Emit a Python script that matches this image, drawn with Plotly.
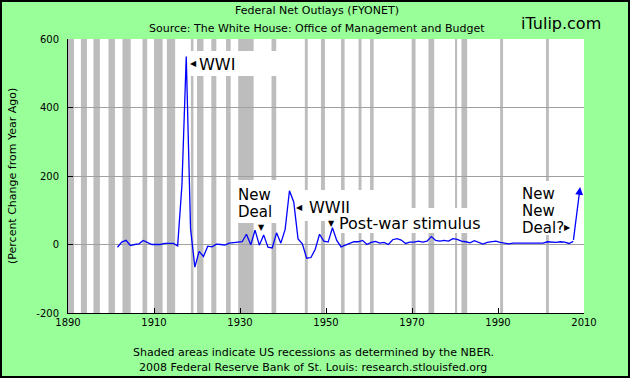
import plotly.graph_objects as go

# ---------------- data ----------------
fiscal_years = list(range(1902, 2009))
pct_change = [
    -8, 7, 12, -3, 0, 2, 12, 5, 0, 0,          # 1902-1911
    0, 3, 2, 3, -4, 174, 549, 46, -66, -20,    # 1912-1921
    -35, -5, -7, 1, 0, -2, 4, 6, 6, 8,         # 1922-1931
    30, -1, 42, -2, 28, -8, -10, 34, 4, 44,    # 1932-1941
    157, 124, 16, 2, -40, -38, -14, 30, 10, 7, # 1942-1951
    49, 12, -7, -3, 3, 8, 8, 12, 0, 6,         # 1952-1961
    9, 4, 6, 0, 14, 17, 13, 3, 7, 7,           # 1962-1971
    10, 7, 10, 23, 12, 10, 12, 10, 17, 15,     # 1972-1981
    10, 8, 5, 11, 5, 1, 6, 7, 10, 6,           # 1982-1991
    4, 2, 4, 4, 3, 3, 3, 3, 5, 4,              # 1992-2001
    8, 7, 6, 8, 7, 3, 9,                       # 2002-2008
]
# hand-drawn "New New Deal?" projection arrow (from last obs to this point)
projection_year = 2009.1
projection_value = 168

# NBER recessions (decimal years, as shaded)
recession_start = [1890.0, 1893.0, 1895.92, 1899.42, 1902.67, 1907.33, 1910.0, 1913.0,
                   1918.58, 1920.0, 1923.33, 1926.75, 1929.58, 1937.33, 1945.08, 1948.83,
                   1953.5, 1957.58, 1960.25, 1969.92, 1973.83, 1980.0, 1981.5, 1990.5, 2001.17]
recession_end = [1891.4, 1894.42, 1897.42, 1900.92, 1904.58, 1908.42, 1912.0, 1914.92,
                 1919.17, 1921.5, 1924.5, 1927.83, 1933.17, 1938.42, 1945.75, 1949.75,
                 1954.33, 1958.25, 1961.08, 1970.83, 1975.17, 1980.5, 1982.83, 1991.17, 2001.83]

x_ticks = [1890, 1910, 1930, 1950, 1970, 1990, 2010]
y_ticks = [-200, 0, 200, 400, 600]
y_tick_text = ["-200", "0", "200", "400", "600"]

# plotted at the start of each fiscal year (mid previous calendar year)
obs_x = [fy - 0.5 for fy in fiscal_years]

# ---------------- layout geometry (pixels) ----------------
W, H = 630, 378
L, R, T, B = 68, 584, 39, 313
X0, X1, Y0, Y1 = 1890, 2010, -200, 600
FONT = "DejaVu Sans"
BG = "#99FF99"


def pp(x, y):
    return (x - L) / (R - L), (B - y) / (B - T)


def pd_(x, y):
    return X0 + (x - L) / (R - L) * (X1 - X0), Y0 + (B - y) / (B - T) * (Y1 - Y0)


fig = go.Figure()
fig.add_trace(go.Scatter(x=obs_x, y=pct_change, mode="lines",
                         line=dict(color="#0000FF", width=1.3),
                         hoverinfo="x+y", showlegend=False))

shapes = []
for s, e in zip(recession_start, recession_end):
    shapes.append(dict(type="rect", xref="x", yref="paper", x0=s, x1=e, y0=0, y1=1,
                       fillcolor="#BDBDBD", line=dict(width=0), layer="below"))

# white label backgrounds (pixel boxes)
label_boxes = [(187, 51, 277, 76), (232, 180, 282, 223), (282, 190, 378, 221),
               (326, 208, 482, 233), (504, 181, 584, 235)]
for x0, y0, x1, y1 in label_boxes:
    a0, b0 = pd_(x0, y1)
    a1, b1 = pd_(x1, y0)
    shapes.append(dict(type="rect", xref="x", yref="y", x0=a0, x1=a1, y0=b0, y1=b1,
                       fillcolor="white", line=dict(width=0), layer="below"))

# outer border
bx0, by0 = pp(1, H - 1)
bx1, by1 = pp(W - 1, 1)
shapes.append(dict(type="rect", xref="paper", yref="paper", x0=bx0, x1=bx1, y0=by0, y1=by1,
                   line=dict(color="black", width=2), fillcolor="rgba(0,0,0,0)", layer="above"))

annotations = []


def paper_text(text, x, y, size=11, xanchor="center", angle=0):
    px, py = pp(x, y)
    annotations.append(dict(text=text, x=px, y=py, xref="paper", yref="paper",
                            xanchor=xanchor, yanchor="middle", showarrow=False,
                            textangle=angle, font=dict(family=FONT, size=size, color="black")))


def data_text(text, x, y, size=15, xanchor="left"):
    dx, dy = pd_(x, y)
    annotations.append(dict(text=text, x=dx, y=dy, xref="x", yref="y",
                            xanchor=xanchor, yanchor="middle", showarrow=False,
                            font=dict(family=FONT, size=size, color="black")))


paper_text("Federal Net Outlays (FYONET)", 317, 11)
paper_text("Source: The White House: Office of Management and Budget", 317, 28)
paper_text("iTulip.com", 561, 23, size=16)
paper_text("(Percent Change from Year Ago)", 12, 176, angle=-90)
paper_text("Shaded areas indicate US recessions as determined by the NBER.", 313, 352)
paper_text("2008 Federal Reserve Bank of St. Louis: research.stlouisfed.org", 313, 367)

# chart labels
data_text("WWI", 197, 64, size=16)
data_text("New", 236, 195, size=15)
data_text("Deal", 236, 212, size=15)
data_text("WWII", 307, 207, size=16)
data_text("Post-war stimulus", 337, 223, size=16)
data_text("New", 520, 194, size=15)
data_text("New", 520, 211, size=15)
data_text("Deal?", 520, 228, size=15)
# pointer triangles
data_text("◀", 193, 63, size=8, xanchor="center")
data_text("▼", 261.5, 227.5, size=8, xanchor="center")
data_text("◀", 299, 207.5, size=8, xanchor="center")
data_text("▼", 331.5, 223, size=8, xanchor="center")
data_text("▶", 567.5, 227.5, size=8, xanchor="center")

# projection arrow
annotations.append(dict(x=projection_year, y=projection_value, ax=obs_x[-1], ay=pct_change[-1],
                        xref="x", yref="y", axref="x", ayref="y", showarrow=True, text="",
                        arrowhead=2, arrowsize=1.2, arrowwidth=1.3, arrowcolor="#0000FF"))

fig.update_layout(
    width=W, height=H,
    margin=dict(l=L, r=W - R, t=T, b=H - B, pad=0),
    paper_bgcolor=BG, plot_bgcolor="white",
    font=dict(family=FONT, size=10, color="black"),
    shapes=shapes, annotations=annotations, showlegend=False,
    hovermode=False,
    xaxis=dict(range=[X0, X1], tickvals=x_ticks, showgrid=False, zeroline=False,
               showline=True, linecolor="black", linewidth=1,
               ticks="inside", ticklen=5, tickcolor="black",
               tickfont=dict(family=FONT, size=10, color="black")),
    yaxis=dict(range=[Y0, Y1], tickvals=y_ticks, ticktext=y_tick_text,
               showgrid=True, gridcolor="#A0A0A0", gridwidth=1, zeroline=False,
               showline=True, linecolor="black", linewidth=1,
               ticks="inside", ticklen=5, tickcolor="black", ticklabelstandoff=6,
               tickfont=dict(family=FONT, size=10, color="black")),
)

fig.write_html("out.html", config={"displayModeBar": False, "staticPlot": True},
               post_script="document.body.style.margin='0';document.body.style.overflow='hidden';")
